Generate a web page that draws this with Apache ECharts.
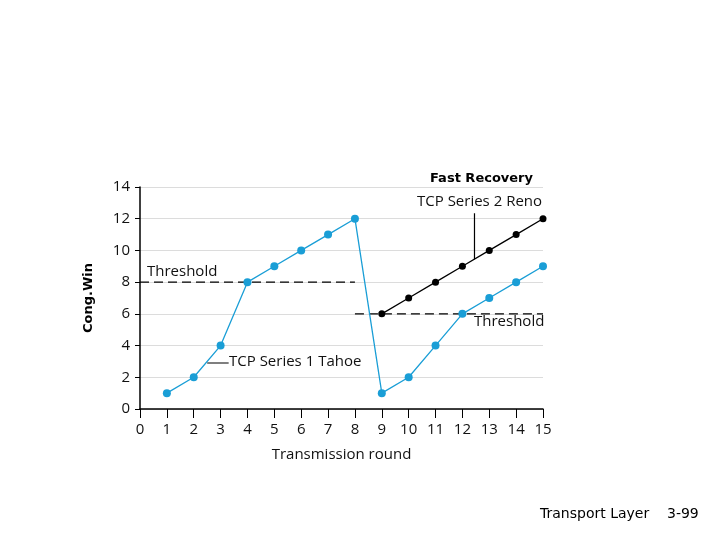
<!DOCTYPE html>
<html><head><meta charset="utf-8">
<script src="https://cdn.jsdelivr.net/npm/echarts@6/dist/echarts.min.js"></script>
<style>html,body{margin:0;padding:0;background:#fff}#c{width:720px;height:540px}</style>
</head><body><div id="c"></div>
<script>
const rounds = [1,2,3,4,5,6,7,8,9,10,11,12,13,14,15];
const tahoe = [1,2,4,8,9,10,11,12,1,2,4,6,7,8,9];
const renoRounds = [9,10,11,12,13,14,15];
const reno = [6,7,8,9,10,11,12];
const threshold1 = [[0,8],[8,8]];
const threshold2 = [[8,6],[15,6]];
const tahoeLeader = [[2.5,2.9],[3.3,2.9]];
const renoLeader = [[12.45,9.45],[12.45,12.35]];

const chart = echarts.init(document.getElementById('c'));
const font = 'Open Sans';
const cyan = '#1a9ed6';
chart.setOption({
  animation:false,
  grid:{left:140,right:177,top:187,bottom:131},
  xAxis:{type:'value',min:0,max:15,interval:1,
    name:'Transmission round',nameLocation:'middle',nameGap:38,
    nameTextStyle:{fontFamily:font,fontSize:15,color:'#111'},
    axisLine:{show:true,onZero:false,lineStyle:{color:'#000',width:1.5}},
    axisTick:{show:true,length:9,lineStyle:{color:'#000'}},
    axisLabel:{fontFamily:font,fontSize:15,color:'#111',margin:13},
    splitLine:{show:false}},
  yAxis:{type:'value',min:0,max:14,interval:2,
    name:'Cong.Win',nameLocation:'middle',nameGap:45,nameRotate:90,
    nameTextStyle:{fontFamily:'DejaVu Sans',fontWeight:'bold',fontSize:13,color:'#000'},
    axisLine:{show:true,lineStyle:{color:'#000',width:1.5}},
    axisTick:{show:true,length:5,lineStyle:{color:'#000'}},
    axisLabel:{fontFamily:font,fontSize:15,color:'#111',margin:10},
    splitLine:{show:true,lineStyle:{color:'#dcdcdc'}}},
  series:[
    {type:'line',data:threshold1,symbol:'none',lineStyle:{color:'#000',width:1.3,type:[9,5]}},
    {type:'line',data:threshold2,symbol:'none',lineStyle:{color:'#000',width:1.3,type:[9,5]}},
    {type:'line',data:tahoeLeader,symbol:'none',lineStyle:{color:'#000',width:1.2}},
    {type:'line',data:renoLeader,symbol:'none',lineStyle:{color:'#000',width:1.2}},
    {type:'line',data:rounds.map((r,i)=>[r,tahoe[i]]),symbol:'circle',symbolSize:8,
      itemStyle:{color:cyan},lineStyle:{color:cyan,width:1.3}},
    {type:'line',data:renoRounds.map((r,i)=>[r,reno[i]]),symbol:'circle',symbolSize:7,
      itemStyle:{color:'#000'},lineStyle:{color:'#000',width:1.3}}
  ],
  graphic:[
    {type:'text',left:147,top:264,style:{text:'Threshold',font:'15px "Open Sans"',fill:'#111'}},
    {type:'text',left:474,top:314,style:{text:'Threshold',font:'15px "Open Sans"',fill:'#111'}},
    {type:'text',left:229,top:354,style:{text:'TCP Series 1 Tahoe',font:'15px "Open Sans"',fill:'#111'}},
    {type:'text',left:417,top:194,style:{text:'TCP Series 2 Reno',font:'15px "Open Sans"',fill:'#111'}},
    {type:'text',left:430,top:172,style:{text:'Fast Recovery',font:'bold 13px "DejaVu Sans"',fill:'#000'}},
    {type:'text',left:540,top:507,style:{text:'Transport Layer    3-99',font:'14px "DejaVu Sans"',fill:'#000'}}
  ]
});
</script></body></html>
